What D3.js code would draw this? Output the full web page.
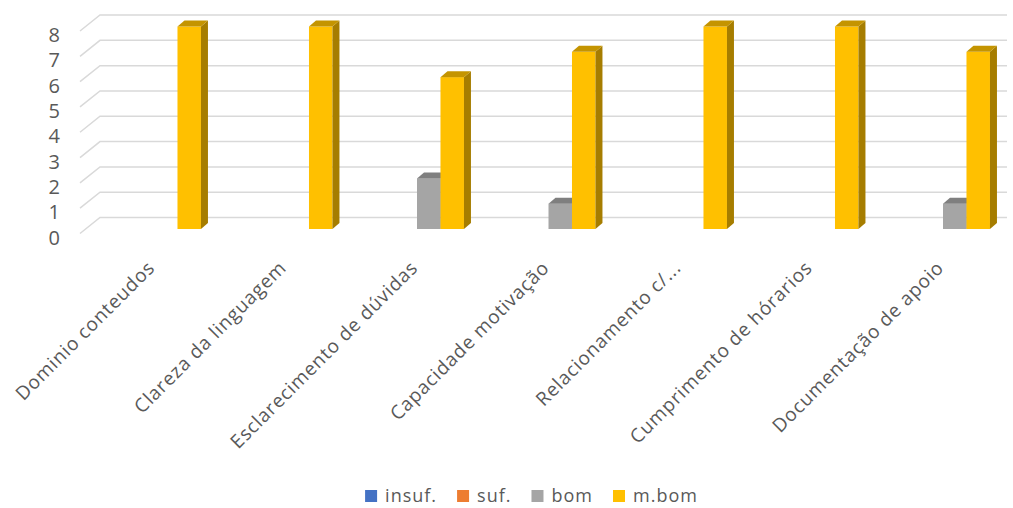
<!DOCTYPE html>
<html>
<head>
<meta charset="utf-8">
<script src="https://cdn.jsdelivr.net/npm/d3@7"></script>
<style>
  body { margin: 0; background: #fff; }
  text { font-family: "Open Sans", sans-serif; fill: #595959; }
</style>
</head>
<body>
<svg id="chart" width="1013" height="508"></svg>
<script>
const categories = ['Dominio conteudos', 'Clareza da linguagem', 'Esclarecimento de dúvidas',
    'Capacidade motivação', 'Relacionamento c/...', 'Cumprimento de hórarios', 'Documentação de apoio'];
const seriesNames = ['insuf.', 'suf.', 'bom', 'm.bom'];
const insufValues = [0, 0, 0, 0, 0, 0, 0];
const sufValues = [0, 0, 0, 0, 0, 0, 0];
const bomValues = [0, 0, 2, 1, 0, 0, 1];
const mbomValues = [8, 8, 6, 7, 8, 8, 7];
const yTicks = [0, 1, 2, 3, 4, 5, 6, 7, 8];

const seriesValues = [insufValues, sufValues, bomValues, mbomValues];
const colors = {
    'insuf.': { front: '#4472C4', side: '#2f5597', top: '#3a62a8' },
    'suf.':   { front: '#ED7D31', side: '#b85f22', top: '#cf6b28' },
    'bom':    { front: '#A5A5A5', side: '#878787', top: '#7f7f7f' },
    'm.bom':  { front: '#FFC000', side: '#a67d00', top: '#c49400' }
};

const svg = d3.select('#chart');

// bars are drawn in front plane, wall behind with offset
const depth = { dx: 7, dy: 6 };
const wall = { dx: 20, dy: 16 };

const x = d3.scaleBand()
    .domain(categories)
    .range([88.25, 1008.75]);

const x1 = d3.scaleBand()
    .domain(seriesNames)
    .range([0, x.bandwidth()])
    .paddingOuter(0.8);

const y = d3.scaleLinear()
    .domain([0, 8])
    .range([229, 26.5]);

// gridlines: diagonal + back wall
const grid = svg.append('g');
yTicks.forEach(t => {
    const yb = y(t) - 11.5;
    grid.append('path')
        .attr('d', `M80,${yb + wall.dy} L${80 + wall.dx},${yb} L1007,${yb}`)
        .attr('fill', 'none')
        .attr('stroke', '#d9d9d9')
        .attr('stroke-width', 1.5);
});

// y labels
svg.append('g').selectAll('text')
    .data(yTicks)
    .join('text')
    .attr('x', 60)
    .attr('y', d => y(d) + 8.5)
    .attr('dy', '0.35em')
    .attr('text-anchor', 'end')
    .style('font-size', '20px')
    .text(d => d);

// bars
const bars = svg.append('g');
categories.forEach((cat, ci) => {
    seriesNames.forEach((s, si) => {
        const v = seriesValues[si][ci];
        if (!v) return;
        const x0 = x(cat) + x1(s);
        const w = x1.bandwidth();
        const top = y(v), bot = y(0);
        const c = colors[s];
        bars.append('rect')
            .attr('x', x0).attr('y', top)
            .attr('width', w).attr('height', bot - top)
            .attr('fill', c.front);
        bars.append('polygon')
            .attr('points', [[x0 + w, top], [x0 + w + depth.dx, top - depth.dy],
                [x0 + w + depth.dx, bot - depth.dy], [x0 + w, bot]].join(' '))
            .attr('fill', c.side);
        bars.append('polygon')
            .attr('points', [[x0, top], [x0 + depth.dx, top - depth.dy],
                [x0 + w + depth.dx, top - depth.dy], [x0 + w, top]].join(' '))
            .attr('fill', c.top);
    });
});

// category labels
svg.append('g').selectAll('text')
    .data(categories)
    .join('text')
    .attr('transform', d => `translate(${x(d) + x.bandwidth() / 2 + 2},269) rotate(-45)`)
    .attr('text-anchor', 'end')
    .style('font-size', '19px')
    .style('letter-spacing', '0.8px')
    .text(d => d);

// legend
const legend = svg.append('g');
let lx = 0;
seriesNames.forEach(s => {
    const g = legend.append('g').attr('transform', `translate(${lx},0)`);
    g.append('rect').attr('x', 0).attr('y', -6).attr('width', 12).attr('height', 12)
        .attr('fill', colors[s].front);
    const t = g.append('text').attr('x', 20).attr('y', 0).attr('dy', '0.35em')
        .style('font-size', '18px')
        .style('letter-spacing', '1px')
        .text(s);
    lx += 20 + t.node().getComputedTextLength() + 20;
});
const legendWidth = lx - 20;
legend.attr('transform', `translate(${531.5 - legendWidth / 2},496)`);
</script>
</body>
</html>
